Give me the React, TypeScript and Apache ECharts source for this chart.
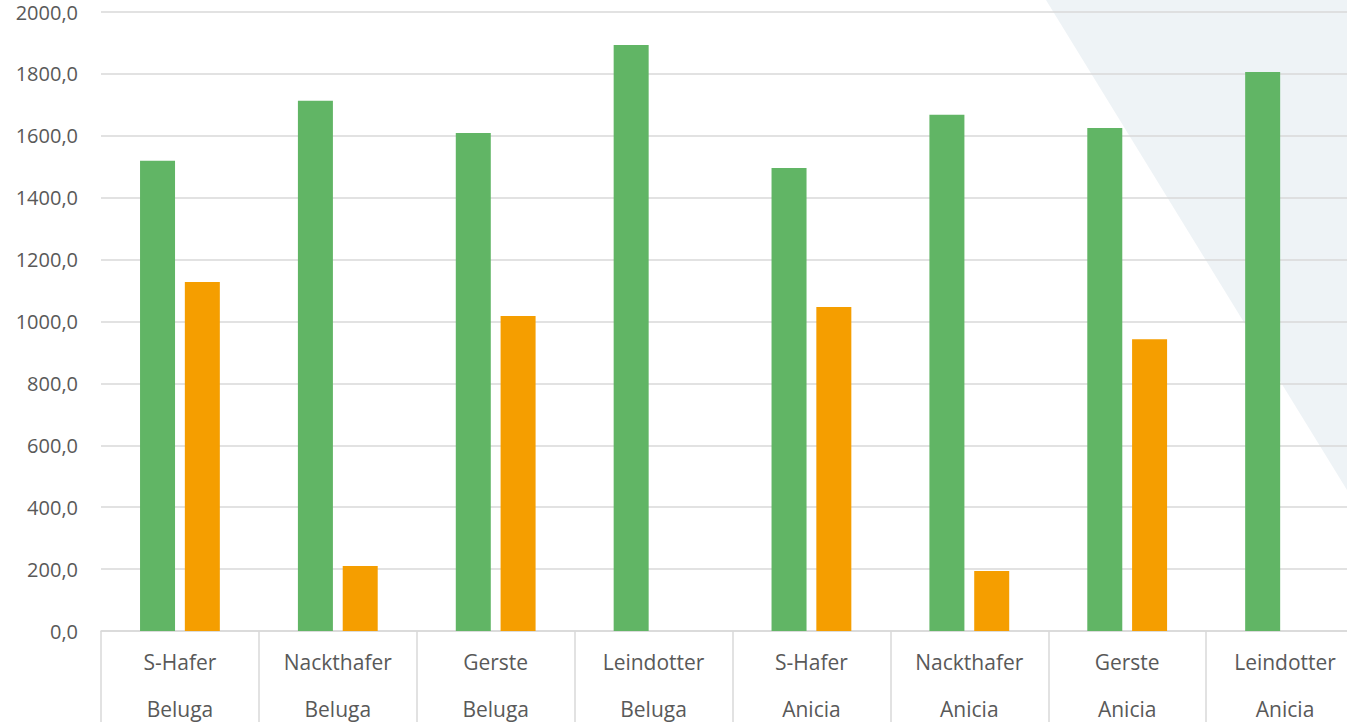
import React, { useEffect, useRef } from "react";
import * as echarts from "echarts";

const crops = ["S-Hafer", "Nackthafer", "Gerste", "Leindotter", "S-Hafer", "Nackthafer", "Gerste", "Leindotter"];
const varieties = ["Beluga", "Beluga", "Beluga", "Beluga", "Anicia", "Anicia", "Anicia", "Anicia"];
const greenValues = [1519, 1713, 1609, 1893, 1496, 1668, 1625, 1806];
const orangeValues: (number | null)[] = [1128, 210, 1018, null, 1047, 194, 943, null];
const yTicks = { min: 0, max: 2000, interval: 200 };

export default function App() {
  const ref = useRef<HTMLDivElement>(null);
  useEffect(() => {
    if (!ref.current) return;
    const chart = echarts.init(ref.current, undefined, { renderer: "svg" });
    const categories = crops.map((c, i) => `${c}\n${varieties[i]}`);
    chart.setOption({
      animation: false,
      backgroundColor: "#ffffff",
      textStyle: { fontFamily: "Open Sans" },
      graphic: [
        {
          type: "polygon",
          z: -10,
          silent: true,
          shape: { points: [[1046, 0], [1347, 0], [1347, 490]] },
          style: { fill: "#eef3f6" },
        },
      ],
      grid: {
        left: 101,
        right: -17,
        top: 12,
        bottom: 91,
        containLabel: false,
        outerBoundsMode: "none",
      },
      xAxis: {
        type: "category",
        data: categories,
        axisLine: { show: true, lineStyle: { color: "#d9d9d9", width: 1.5 } },
        axisTick: { show: true, length: 100, lineStyle: { color: "#d9d9d9", width: 1.5 }, interval: 0 },
        axisLabel: {
          interval: 0,
          margin: 7,
          color: "#595959",
          fontSize: 21,
          lineHeight: 47,
          fontFamily: "Open Sans",
        },
      },
      yAxis: {
        type: "value",
        min: yTicks.min,
        max: yTicks.max,
        interval: yTicks.interval,
        axisLine: { show: false },
        axisTick: { show: false },
        splitLine: { lineStyle: { color: "#d9d9d9", width: 1.5 } },
        axisLabel: {
          color: "#595959",
          fontSize: 20,
          margin: 23,
          fontFamily: "Open Sans",
          formatter: (v: number) => v.toFixed(1).replace(".", ","),
        },
      },
      series: [
        {
          type: "bar",
          data: greenValues,
          barWidth: 35,
          barGap: "28%",
          itemStyle: { color: "#61b565" },
        },
        {
          type: "bar",
          data: orangeValues,
          barWidth: 35,
          itemStyle: { color: "#f59e00" },
        },
      ],
    });
    return () => chart.dispose();
  }, []);
  return (
    <div
      ref={ref}
      style={{ position: "absolute", left: 0, top: 0, width: 1347, height: 722 }}
    />
  );
}
